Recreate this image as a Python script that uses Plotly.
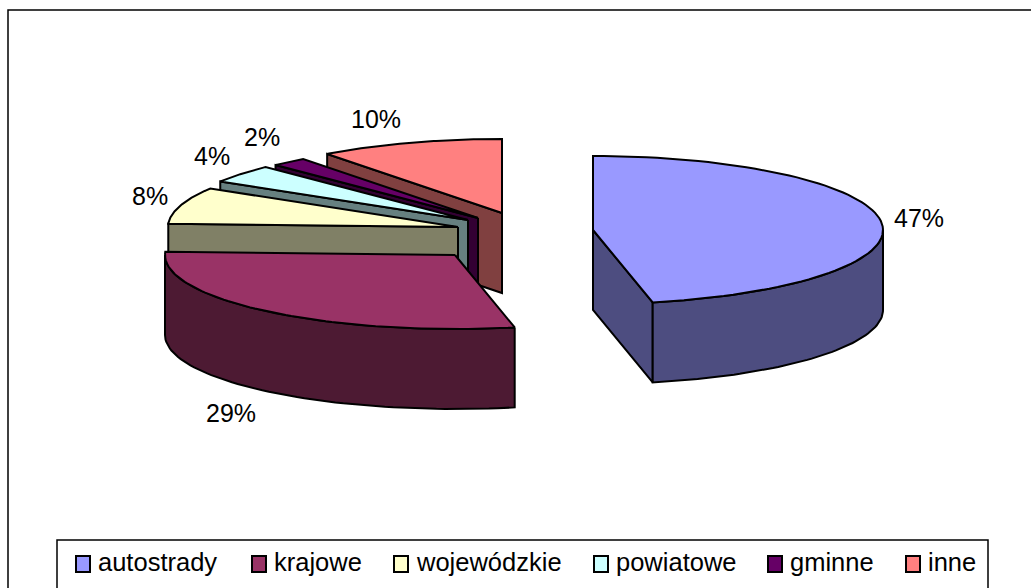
import numpy as np
import plotly.graph_objects as go

# dane wykresu (wartosci, etykiety zaokraglone)
categories = ['autostrady', 'krajowe', 'wojewódzkie', 'powiatowe', 'gminne', 'inne']
values = [46.7, 29, 8, 4, 2, 10.3]

# styl
top_colors = ['#9999FF', '#993366', '#FFFFCC', '#CCFFFF', '#660066', '#FF8080']
wall_colors = ['#4D4D80', '#4D1A33', '#808066', '#668080', '#330033', '#804040']

# geometria "3D" w pikselach obrazka
pie_cx, pie_cy = 524, 231
rx, ry, depth = 290, 74, 80
# wysuniecie kazdego wycinka od srodka kola
pull_x = [69, -69, -66, -56, -46, -22]
pull_y = [-1, 24, -4, -11, -13, -18]
draw_order = [5, 4, 3, 2, 1, 0]  # od tylu do przodu

label_x = [919, 231, 150, 212, 262, 376]
label_y = [218, 413, 196, 156, 137, 119]
legend_swatch_x = [76, 252, 394, 594, 768, 906]
legend_text_x = [96, 272, 414, 614, 788, 926]

FONT = 'Liberation Sans, Arial, sans-serif'


def ellipse(cx, cy, a):
    a = np.radians(a)
    return cx + rx * np.sin(a), cy - ry * np.cos(a)


def add_poly(fig, xs, ys, color):
    fig.add_trace(go.Scatter(x=list(xs) + [xs[0]], y=list(ys) + [ys[0]], mode='lines', fill='toself',
                             fillcolor=color, line=dict(color='black', width=2),
                             hoverinfo='skip', showlegend=False))


total = sum(values)
edges = np.cumsum([0] + values) / total * 360

fig = go.Figure()

for i in draw_order:
    start, end = edges[i], edges[i + 1]
    cx = pie_cx + pull_x[i]
    cy = pie_cy + pull_y[i]

    # sciana przy kacie poczatkowym
    if np.sin(np.radians(start)) < -0.001:
        sx, sy = ellipse(cx, cy, start)
        add_poly(fig, [cx, sx, sx, cx], [cy, sy, sy + depth, cy + depth], wall_colors[i])
    # sciana przy kacie koncowym
    if np.sin(np.radians(end)) > 0.001:
        ex, ey = ellipse(cx, cy, end)
        add_poly(fig, [cx, ex, ex, cx], [cy, ey, ey + depth, cy + depth], wall_colors[i])
    # sciana zewnetrzna, tylko przednia czesc
    a0, a1 = max(start, 90), min(end, 270)
    if a1 > a0:
        ax, ay = ellipse(cx, cy, np.linspace(a0, a1, 60))
        add_poly(fig, np.concatenate([ax, ax[::-1]]), np.concatenate([ay, ay[::-1] + depth]), wall_colors[i])
    # wierzch wycinka
    tx, ty = ellipse(cx, cy, np.linspace(start, end, 80))
    add_poly(fig, np.concatenate([[cx], tx]), np.concatenate([[cy], ty]), top_colors[i])

# etykiety procentowe
for v, x, y in zip(values, label_x, label_y):
    fig.add_annotation(x=x, y=y, text=f'{round(v / total * 100)}%', showarrow=False,
                       font=dict(family=FONT, size=25, color='black'))

# ramki: wykres i legenda (dolem i prawa strona uciete jak w oryginale)
shapes = [
    dict(type='rect', x0=8, y0=10, x1=1100, y1=700, line=dict(color='black', width=1.5)),
    dict(type='rect', x0=57, y0=540, x1=988, y1=700, line=dict(color='black', width=1.5)),
]
for name, color, sx, tx in zip(categories, top_colors, legend_swatch_x, legend_text_x):
    shapes.append(dict(type='rect', x0=sx, y0=556, x1=sx + 14, y1=572, fillcolor=color,
                       line=dict(color='black', width=2)))
    fig.add_annotation(x=tx, y=562, text=name, showarrow=False, xanchor='left',
                       font=dict(family=FONT, size=25.5, color='black'))

fig.update_layout(
    width=1031,
    height=588,
    margin=dict(l=0, r=0, t=0, b=0),
    paper_bgcolor='white',
    plot_bgcolor='white',
    showlegend=False,
    shapes=shapes,
    xaxis=dict(range=[0, 1031], visible=False, fixedrange=True),
    yaxis=dict(range=[588, 0], visible=False, fixedrange=True),
)

# bez domyslnego marginesu strony
fig.write_html("out.html", post_script="document.body.style.margin='0';", config=dict(displayModeBar=False))
